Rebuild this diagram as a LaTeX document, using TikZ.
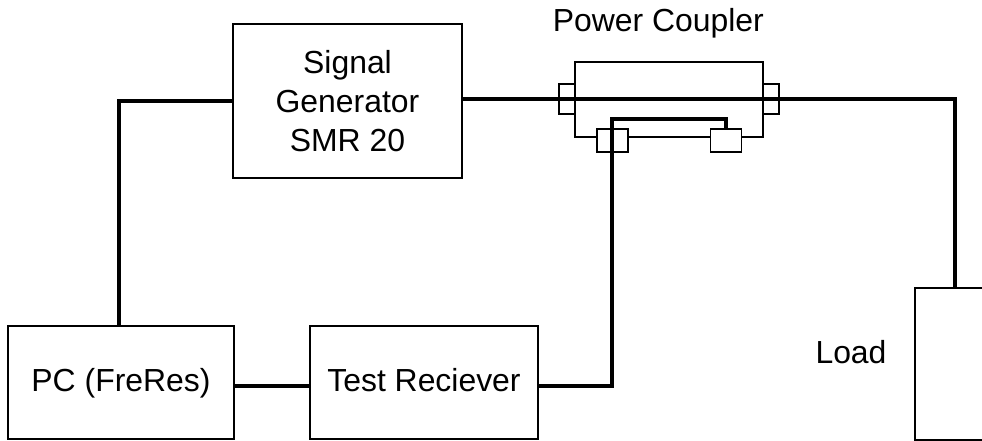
\documentclass[tikz,border=0pt]{standalone}
\usepackage{fontspec}
\setmainfont{Liberation Sans}
\usepackage{tikz}

\tikzset{wire/.style={line width=2.9pt,line cap=butt}}
\tikzset{port/.style={fill=white}}
\tikzset{label/.style={draw=none,fill=none}}
\tikzset{boxtext/.style={text height=.475cm,text depth=0pt}}

\begin{document}
\begin{tikzpicture}[line width=1.4pt]
\newcommand{\tsize}{\fontsize{22.7}{27.7}\selectfont}
\useasboundingbox (0,0) rectangle (24.55,11.025);
\clip (0,0) rectangle (24.55,11.025);
\begin{scope}[shape=rectangle,inner sep=0pt,outer sep=0pt,align=center,font=\tsize]
\tikzstyle{every node}=[draw]
\node[minimum width=5.725cm,minimum height=3.85cm] (SigGen) at (8.6875,8.5) {Signal\\Generator\\SMR 20};
\node[boxtext,minimum width=5.65cm,minimum height=2.825cm] (PC) at (3.025,1.4625) {PC (FreRes)};
\node[boxtext,minimum width=5.7cm,minimum height=2.825cm] (TestRec) at (10.6,1.4625) {Test Reciever};
\node[minimum width=2cm,minimum height=3.8cm] (Load) at (23.875,1.925) {};
\node[minimum width=4.7cm,minimum height=1.875cm] (Coupler) at (16.725,8.5375) {};
\node[port,minimum width=.4cm,minimum height=.75cm] (PortL) at (14.175,8.55) {};
\node[port,minimum width=.4cm,minimum height=.75cm] (PortR) at (19.275,8.55) {};
\node[port,minimum width=.775cm,minimum height=.575cm] (PortIn) at (15.3125,7.5125) {};
\node[port,minimum width=.775cm,minimum height=.575cm] (PortOut) at (18.15,7.5125) {};
\node[label] (CouplerText) at (16.46,10.45) {Power Coupler};
\node[label] (LoadText) at (21.275,2.225) {Load};
\coordinate (Bend) at (15.3,8.05);
\draw [wire] (SigGen.west) -| ([xshift=-.05cm]PC.north);
\draw [wire] ([yshift=.04cm]SigGen.east) -| (Load.north);
\draw [wire] ([yshift=-.08cm]PC.east) -- ([yshift=-.08cm]TestRec.west);
\draw [wire] ([yshift=-.08cm]TestRec.east) -| (Bend) -| (PortOut.north);
\end{scope}
\end{tikzpicture}
\end{document}
